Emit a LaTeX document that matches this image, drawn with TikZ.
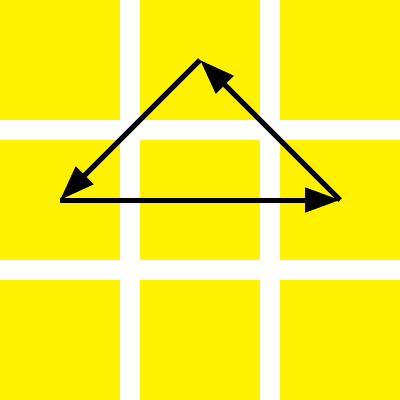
\documentclass[tikz,border=0pt]{standalone}
\usetikzlibrary{arrows.meta}
\definecolor{tileyellow}{RGB}{255,242,0}
\begin{document}
\begin{tikzpicture}[x=1pt,y=-1pt,
  tile/.style={fill=tileyellow,draw=none},
  edge/.style={line width=5pt,draw=black,-{Triangle[length=35pt,width=24pt]}}]
\useasboundingbox (0,0) rectangle (400,400);
\fill[white] (0,0) rectangle (400,400);
\foreach \i in {0,140,280}{
  \foreach \j in {0,140,280}{
    \path[tile] (\i,\j) rectangle ++(120,120);
  }
}
\coordinate (A) at (200,60);
\coordinate (B) at (60,200);
\coordinate (C) at (340,200);
\draw[edge] (A) -- (B);
\draw[edge] (B) -- (C);
\draw[edge] (C) -- (A);
\end{tikzpicture}
\end{document}
